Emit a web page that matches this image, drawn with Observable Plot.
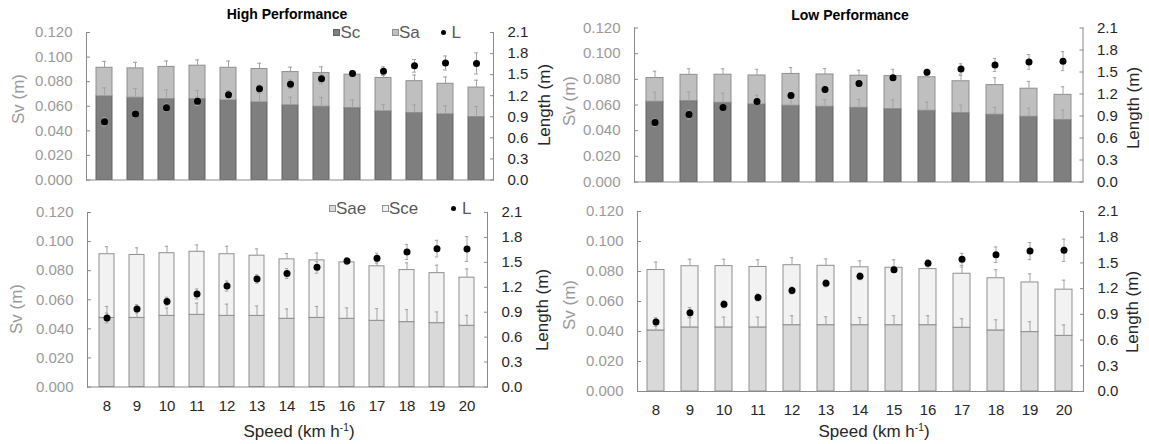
<!DOCTYPE html>
<html>
<head>
<meta charset="utf-8">
<script src="https://cdn.jsdelivr.net/npm/d3@7"></script>
<script src="https://cdn.jsdelivr.net/npm/@observablehq/plot@0.6"></script>
<style>
  html, body { margin: 0; padding: 0; background: #fff; }
  #chart { position: relative; width: 1149px; height: 444px; overflow: hidden;
           font-family: "Liberation Sans", Arial, sans-serif; }
  #chart svg { position: absolute; left: 0; top: 0; }
  .t { position: absolute; white-space: nowrap; line-height: 1; }
  .sw { position: absolute; box-sizing: border-box; }
  sup { font-size: 0.6em; vertical-align: 0.55em; line-height: 0; }
</style>
</head>
<body>
<div id="chart"></div>
<script>
// Running speeds (km/h)
const speeds = [8, 9, 10, 11, 12, 13, 14, 15, 16, 17, 18, 19, 20];

// High performance group: vertical stiffness components (m)
const hpSc  = [0.0680, 0.0669, 0.0658, 0.0658, 0.0647, 0.0631, 0.0607, 0.0596, 0.0585, 0.0558, 0.0545, 0.0534, 0.0512];
const hpSa  = [0.0233, 0.0239, 0.0262, 0.0272, 0.0266, 0.0272, 0.0271, 0.0275, 0.0272, 0.0272, 0.0259, 0.0249, 0.0240];
const hpSae = [0.0475, 0.0475, 0.0489, 0.0496, 0.0489, 0.0489, 0.0469, 0.0475, 0.0469, 0.0455, 0.0446, 0.0439, 0.0421];
const hpSce = [0.0438, 0.0433, 0.0431, 0.0434, 0.0424, 0.0414, 0.0409, 0.0396, 0.0388, 0.0375, 0.0358, 0.0344, 0.0331];
const hpScSD  = [0.0070, 0.0075, 0.0075, 0.0070, 0.0080, 0.0075, 0.0067, 0.0076, 0.0067, 0.0057, 0.0065, 0.0070, 0.0086];
const hpSaeSD = [0.0079, 0.0050, 0.0054, 0.0081, 0.0081, 0.0068, 0.0068, 0.0079, 0.0075, 0.0084, 0.0086, 0.0077, 0.0072];
const hpSvSD  = [0.0052, 0.0049, 0.0048, 0.0047, 0.0055, 0.0047, 0.0040, 0.0050, 0.0030, 0.0032, 0.0050, 0.0055, 0.0060];
// High performance group: stride length (m)
const hpL   = [0.83, 0.94, 1.03, 1.12, 1.215, 1.30, 1.365, 1.44, 1.515, 1.55, 1.625, 1.665, 1.66];
const hpLSD = [0.06, 0.05, 0.05, 0.06, 0.06, 0.05, 0.06, 0.07, 0.04, 0.06, 0.09, 0.10, 0.15];

// Low performance group: vertical stiffness components (m)
const lpSc  = [0.0625, 0.0630, 0.0617, 0.0604, 0.0594, 0.0586, 0.0578, 0.0568, 0.0555, 0.0537, 0.0524, 0.0508, 0.0483];
const lpSa  = [0.0185, 0.0205, 0.0219, 0.0226, 0.0248, 0.0252, 0.0250, 0.0257, 0.0261, 0.0248, 0.0231, 0.0219, 0.0196];
const lpSae = [0.0407, 0.0427, 0.0427, 0.0427, 0.0442, 0.0442, 0.0442, 0.0442, 0.0442, 0.0425, 0.0407, 0.0396, 0.0371];
const lpSce = [0.0403, 0.0408, 0.0409, 0.0403, 0.0400, 0.0396, 0.0386, 0.0383, 0.0374, 0.0360, 0.0348, 0.0331, 0.0308];
const lpScSD  = [0.0075, 0.0072, 0.0075, 0.0072, 0.0077, 0.0057, 0.0065, 0.0072, 0.0067, 0.0062, 0.0057, 0.0067, 0.0077];
const lpSaeSD = [0.0050, 0.0069, 0.0069, 0.0069, 0.0063, 0.0056, 0.0051, 0.0063, 0.0063, 0.0060, 0.0071, 0.0069, 0.0073];
const lpSvSD  = [0.0053, 0.0047, 0.0046, 0.0048, 0.0050, 0.0046, 0.0043, 0.0053, 0.0037, 0.0045, 0.0057, 0.0057, 0.0063];
// Low performance group: stride length (m)
const lpL   = [0.81, 0.92, 1.017, 1.097, 1.178, 1.262, 1.344, 1.421, 1.495, 1.542, 1.596, 1.638, 1.648];
const lpLSD = [0.05, 0.06, 0.04, 0.04, 0.04, 0.04, 0.04, 0.03, 0.04, 0.07, 0.09, 0.10, 0.13];

// Axis ticks
const svTicks  = [0, 0.02, 0.04, 0.06, 0.08, 0.10, 0.12];
const lenTicks = [0, 0.3, 0.6, 0.9, 1.2, 1.5, 1.8, 2.1];

const W = 1149, H = 444;
const FONT = '"Liberation Sans", Arial, sans-serif';
const AXIS = "#8a8a8a", ERR = "#a3a3a3", GRAYTXT = "#9a9a9a", DARK = "#262626";
const PAD = 0.49, CAP = 4;

const styles = {
  Sc:  {fill: "#7f7f7f", stroke: "#636363"},
  Sa:  {fill: "#bfbfbf", stroke: "#8f8f8f"},
  Sae: {fill: "#d9d9d9", stroke: "#8f8f8f"},
  Sce: {fill: "#f2f2f2", stroke: "#8f8f8f"}
};

const chart = document.getElementById("chart");

function drawPanel({frame: [xl, xr, yt, yb], low, high, lowSD, svSD, len, lenSD, lowStyle, highStyle, xLabels}) {
  const rows = speeds.map((s, i) => ({
    speed: s, low: low[i], total: low[i] + high[i],
    lowSD: lowSD[i], svSD: svSD[i], len: len[i], lenSD: lenSD[i]
  }));
  const common = {
    width: W, height: H,
    marginLeft: xl, marginRight: W - xr, marginTop: yt, marginBottom: H - yb,
    x: {type: "band", domain: speeds, paddingInner: PAD, paddingOuter: PAD / 2, axis: null},
    style: {background: "transparent", fontFamily: FONT, fontSize: "15px", overflow: "visible"}
  };
  const bw = (xr - xl) / speeds.length * (1 - PAD);
  const cap = {insetLeft: (bw - CAP) / 2, insetRight: (bw - CAP) / 2, strokeWidth: 1};

  // Stacked stiffness bars on the left axis
  const svPlot = Plot.plot({
    ...common,
    y: {domain: [0, 0.12], axis: null},
    marks: [
      Plot.barY(rows, {x: "speed", y1: 0, y2: "low", ...lowStyle, strokeWidth: 1}),
      Plot.barY(rows, {x: "speed", y1: "low", y2: "total", ...highStyle, strokeWidth: 1}),
      Plot.ruleX(rows, {x: "speed", y1: "low", y2: d => d.low + d.lowSD, stroke: ERR}),
      Plot.tickY(rows, {x: "speed", y: d => d.low + d.lowSD, stroke: ERR, ...cap}),
      Plot.ruleX(rows, {x: "speed", y1: "total", y2: d => d.total + d.svSD, stroke: ERR}),
      Plot.tickY(rows, {x: "speed", y: d => d.total + d.svSD, stroke: ERR, ...cap}),
      Plot.ruleY([0], {stroke: AXIS}),
      Plot.frame({anchor: "left", stroke: AXIS}),
      Plot.axisY(svTicks, {anchor: "left", tickSize: 0, tickPadding: 14, tickFormat: d3.format(".3f"), fill: GRAYTXT, label: null}),
      Plot.axisY(svTicks, {anchor: "left", tickSize: 4, dx: 4, tickFormat: () => "", stroke: AXIS, label: null}),
      xLabels ? Plot.axisX({anchor: "bottom", tickSize: 0, tickPadding: 13, fill: DARK, label: null}) : null
    ]
  });

  // Stride length dots on the right axis
  const lenPlot = Plot.plot({
    ...common,
    y: {domain: [0, 2.1], axis: null},
    marks: [
      Plot.ruleX(rows, {x: "speed", y1: d => d.len - d.lenSD, y2: d => d.len + d.lenSD, stroke: ERR}),
      Plot.tickY(rows, {x: "speed", y: d => d.len - d.lenSD, stroke: ERR, ...cap}),
      Plot.tickY(rows, {x: "speed", y: d => d.len + d.lenSD, stroke: ERR, ...cap}),
      Plot.dot(rows, {x: "speed", y: "len", r: 3.5, fill: "#000", stroke: "none"}),
      Plot.frame({anchor: "right", stroke: AXIS}),
      Plot.axisY(lenTicks, {anchor: "right", tickSize: 0, tickPadding: 14, tickFormat: d => d.toFixed(1), fill: DARK, label: null}),
      Plot.axisY(lenTicks, {anchor: "right", tickSize: 4, dx: -4, tickFormat: () => "", stroke: AXIS, label: null})
    ]
  });
  chart.append(svPlot, lenPlot);
}

drawPanel({frame: [86, 493, 32, 179.5], low: hpSc, high: hpSa, lowSD: hpScSD, svSD: hpSvSD,
  len: hpL, lenSD: hpLSD, lowStyle: styles.Sc, highStyle: styles.Sa, xLabels: false});
drawPanel({frame: [634, 1082.5, 27.5, 181.5], low: lpSc, high: lpSa, lowSD: lpScSD, svSD: lpSvSD,
  len: lpL, lenSD: lpLSD, lowStyle: styles.Sc, highStyle: styles.Sa, xLabels: false});
drawPanel({frame: [87, 487, 212, 386.5], low: hpSae, high: hpSce, lowSD: hpSaeSD, svSD: hpSvSD,
  len: hpL, lenSD: hpLSD, lowStyle: styles.Sae, highStyle: styles.Sce, xLabels: true});
drawPanel({frame: [637, 1083, 211, 391], low: lpSae, high: lpSce, lowSD: lpSaeSD, svSD: lpSvSD,
  len: lpL, lenSD: lpLSD, lowStyle: styles.Sae, highStyle: styles.Sce, xLabels: true});

// Text helpers: centred labels, optionally rotated
function text(html, x, y, css = {}, rotate = false) {
  const el = document.createElement("div");
  el.className = "t";
  el.innerHTML = html;
  Object.assign(el.style, {left: x + "px", top: y + "px",
    transform: `translate(-50%, -50%)${rotate ? " rotate(-90deg)" : ""}`}, css);
  chart.append(el);
}
function leftText(html, x, y, css = {}) {
  const el = document.createElement("div");
  el.className = "t";
  el.innerHTML = html;
  Object.assign(el.style, {left: x + "px", top: y + "px", transform: "translate(0, -50%)"}, css);
  chart.append(el);
}
function swatch(x, y, size, css) {
  const el = document.createElement("div");
  el.className = "sw";
  Object.assign(el.style, {left: x + "px", top: (y - size / 2) + "px", width: size + "px", height: size + "px"}, css);
  chart.append(el);
}

// Panel titles
text("High Performance", 287, 14, {fontWeight: "bold", fontSize: "14px", color: "#000"});
text("Low Performance", 850, 15, {fontWeight: "bold", fontSize: "14px", color: "#000"});

// Axis titles
const gray17 = {fontSize: "17px", color: GRAYTXT};
const dark17 = {fontSize: "17px", color: DARK};
text("Sv (m)", 18, 99, gray17, true);
text("Sv (m)", 569, 101, gray17, true);
text("Sv (m)", 16, 309, gray17, true);
text("Sv (m)", 569, 305, gray17, true);
text("Length (m)", 544, 105, dark17, true);
text("Length (m)", 1133, 108, dark17, true);
text("Length (m)", 542, 310, dark17, true);
text("Length (m)", 1132, 312, dark17, true);
text("Speed (km h<sup>-1</sup>)", 299, 431, dark17);
text("Speed (km h<sup>-1</sup>)", 874, 431, dark17);

// Legends
const legTxt = {fontSize: "17px", color: "#595959"};
function dotSwatch(cx, cy) {
  swatch(cx - 2.5, cy, 5, {background: "#000", borderRadius: "50%"});
}
swatch(333, 32, 7, {background: styles.Sc.fill, border: `1px solid ${styles.Sc.stroke}`});
leftText("Sc", 340.5, 32, legTxt);
swatch(392, 32, 7, {background: styles.Sa.fill, border: `1px solid ${styles.Sa.stroke}`});
leftText("Sa", 399, 32, legTxt);
dotSwatch(443.5, 32);
leftText("L", 451.5, 32, legTxt);

swatch(329, 208, 7, {background: styles.Sae.fill, border: `1px solid ${styles.Sae.stroke}`});
leftText("Sae", 336, 208, legTxt);
swatch(382, 208, 7, {background: styles.Sce.fill, border: `1px solid ${styles.Sce.stroke}`});
leftText("Sce", 389, 208, legTxt);
dotSwatch(453.5, 208);
leftText("L", 462, 208, legTxt);
</script>
</body>
</html>
